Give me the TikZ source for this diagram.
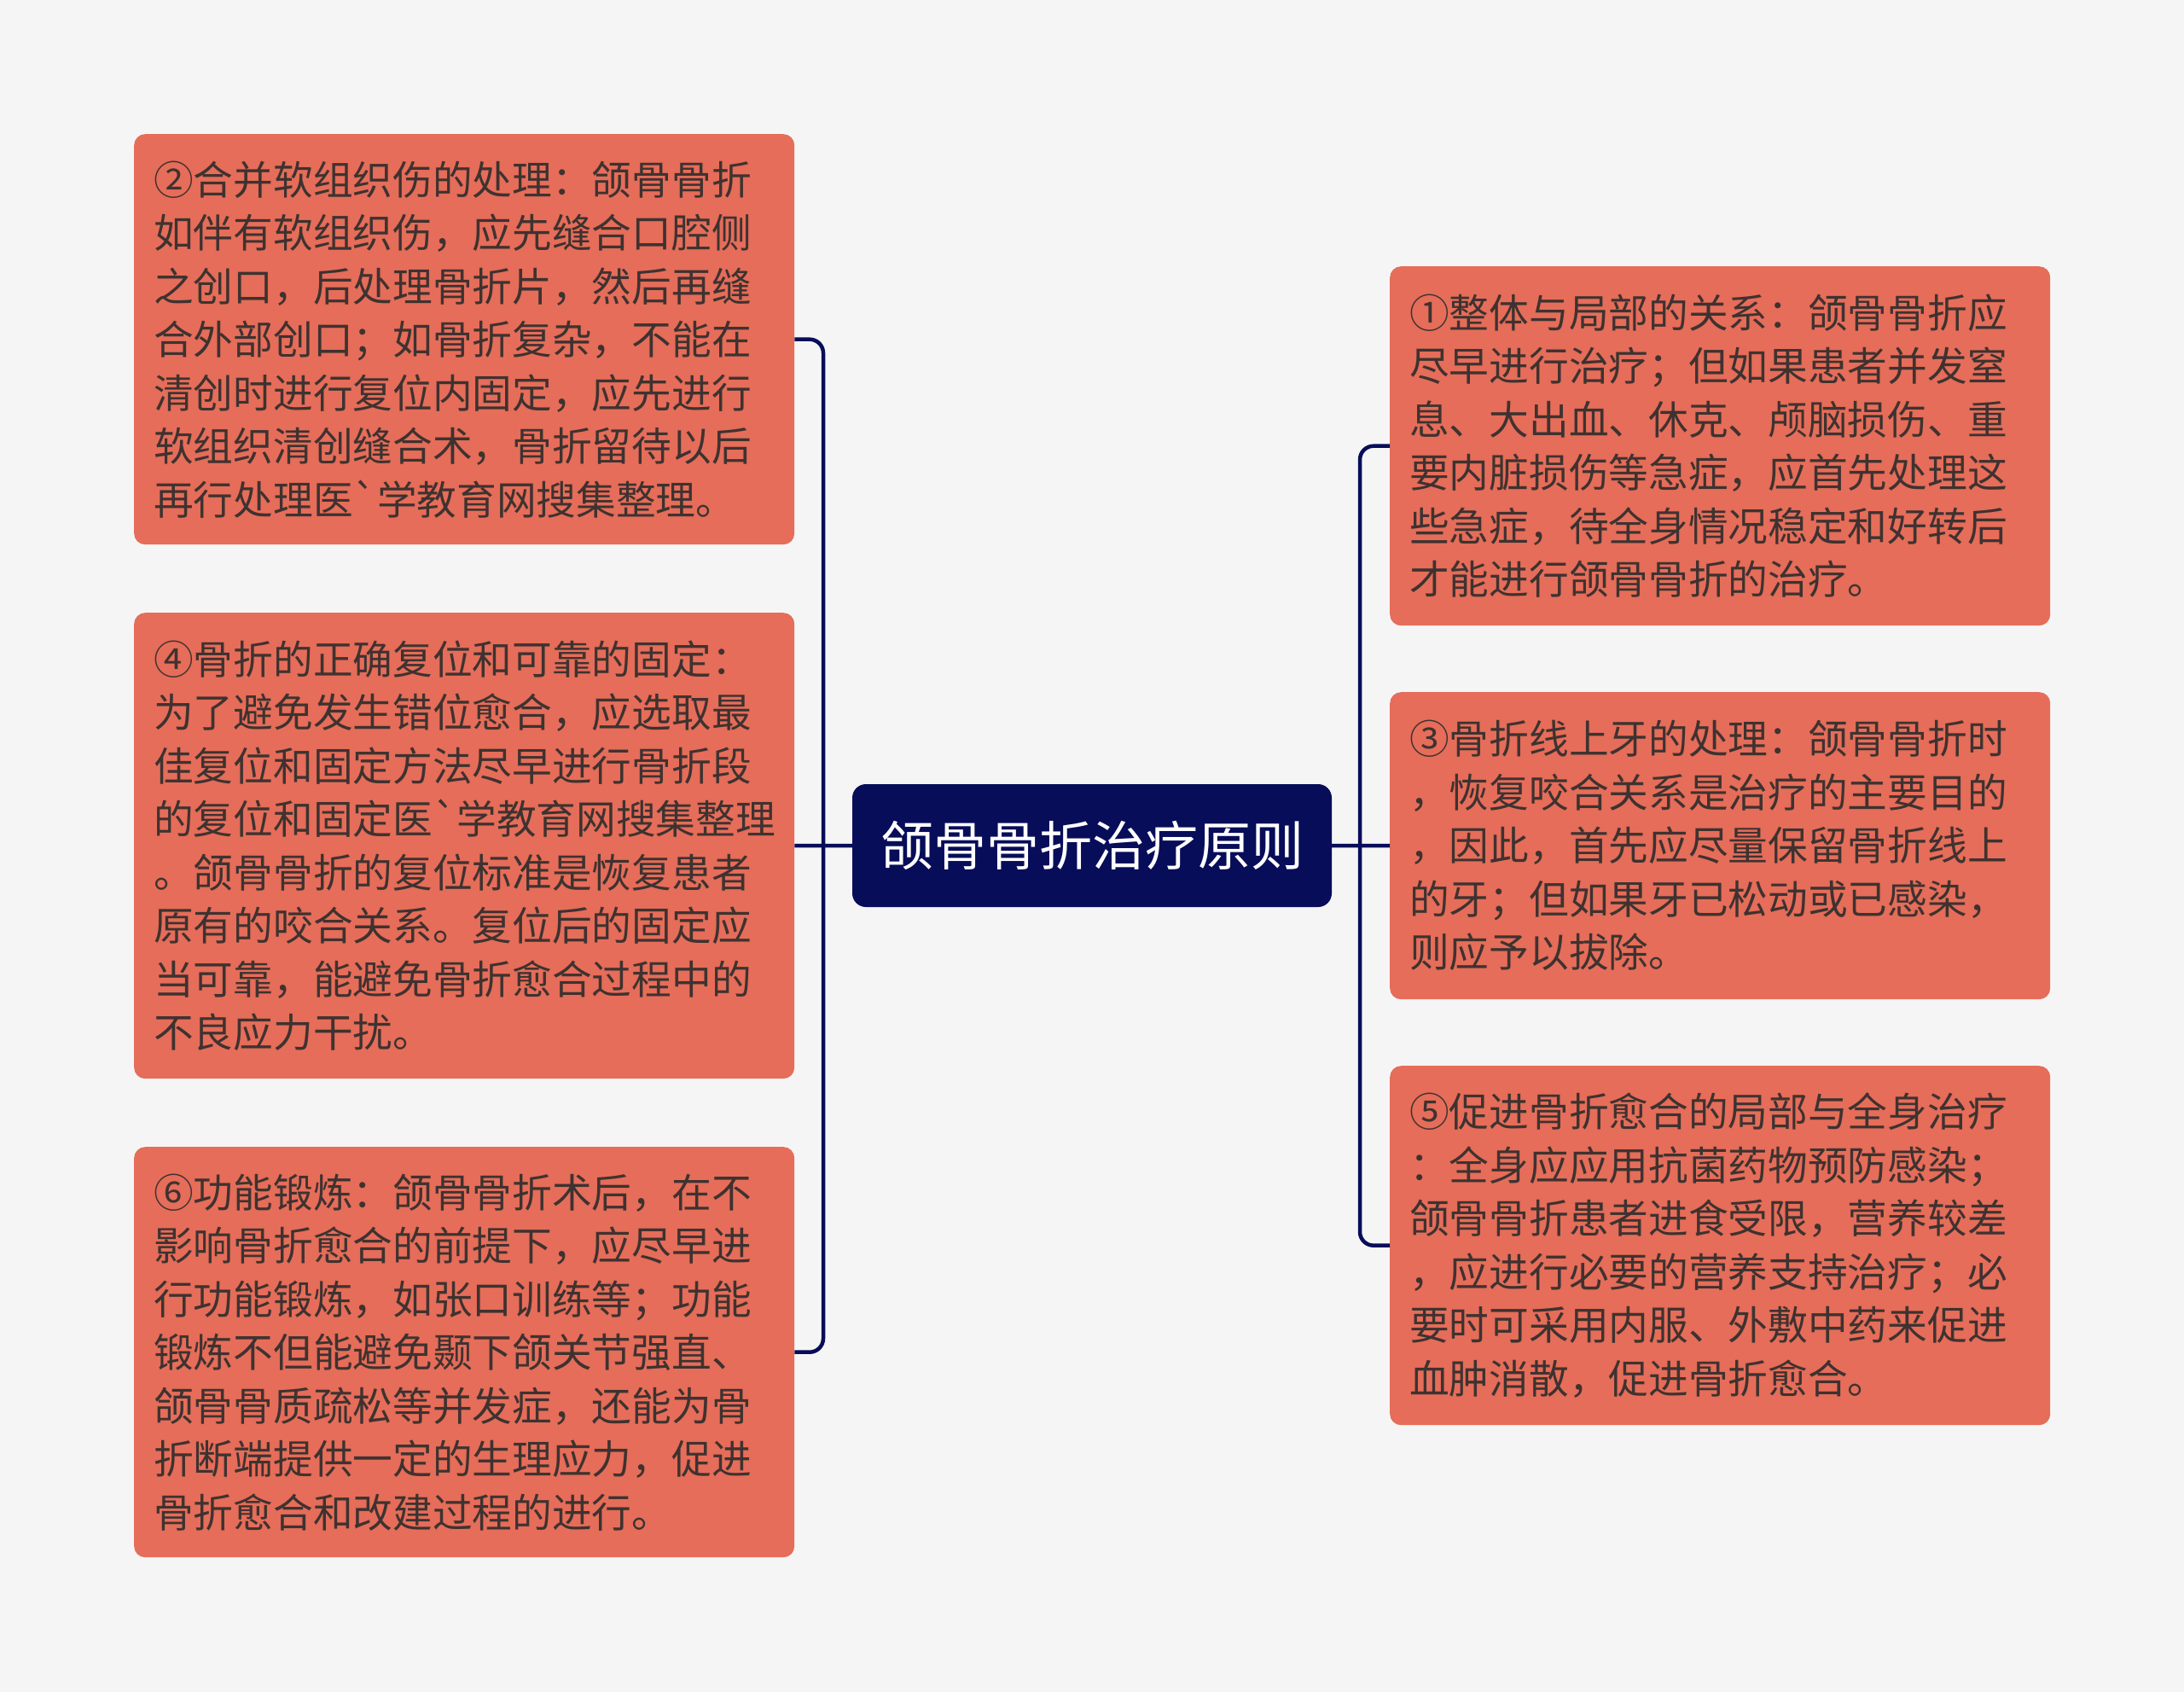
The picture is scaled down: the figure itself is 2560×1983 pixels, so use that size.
\documentclass[tikz,border=0pt]{standalone}
\usepackage{fontspec}
\newfontfamily\cjk{Noto Sans CJK SC}
\definecolor{bgc}{RGB}{245,245,245}
\definecolor{boxc}{RGB}{229,109,89}
\definecolor{txtc}{RGB}{62,50,48}
\definecolor{navy}{RGB}{7,13,89}
\tikzset{
  leaf/.style={fill=boxc, rounded corners=13pt, text=txtc, align=left,
    text width=728pt, inner xsep=23pt, inner ysep=0pt, anchor=north west,
    font=\cjk\fontsize{46.7}{62.5}\selectfont},
  rootbox/.style={fill=navy, rounded corners=16pt, text=white,
    minimum width=562pt, minimum height=144pt, inner sep=0pt,
    font=\cjk\fontsize{62}{70}\selectfont},
  link/.style={draw=navy, line width=4.5pt, rounded corners=16pt}
}
\begin{document}
\begin{tikzpicture}[x=1pt,y=-1pt]
\useasboundingbox (0,0) rectangle (2560,1983);
\fill[bgc] (0,0) rectangle (2560,1983);

\node[rootbox] (c) at (1280,991) {颌骨骨折治疗原则};

\node[leaf, minimum height=481pt] (l1) at (157,157) {②合并软组织伤的处理：颌骨骨折\\如伴有软组织伤，应先缝合口腔侧\\之创口，后处理骨折片，然后再缝\\合外部创口；如骨折复杂，不能在\\清创时进行复位内固定，应先进行\\软组织清创缝合术，骨折留待以后\\再行处理医\symbol{96}学教育网搜集整理。};

\node[leaf, minimum height=546pt] (l2) at (157,718) {④骨折的正确复位和可靠的固定：\\为了避免发生错位愈合，应选取最\\佳复位和固定方法尽早进行骨折段\\的复位和固定医\symbol{96}学教育网搜集整理\\。颌骨骨折的复位标准是恢复患者\\原有的咬合关系。复位后的固定应\\当可靠，能避免骨折愈合过程中的\\不良应力干扰。};

\node[leaf, minimum height=481pt] (l3) at (157,1344) {⑥功能锻炼：颌骨骨折术后，在不\\影响骨折愈合的前提下，应尽早进\\行功能锻炼，如张口训练等；功能\\锻炼不但能避免颞下颌关节强直、\\颌骨骨质疏松等并发症，还能为骨\\折断端提供一定的生理应力，促进\\骨折愈合和改建过程的进行。};

\node[leaf, minimum height=421pt] (r1) at (1629,312) {①整体与局部的关系：颌骨骨折应\\尽早进行治疗；但如果患者并发窒\\息、大出血、休克、颅脑损伤、重\\要内脏损伤等急症，应首先处理这\\些急症，待全身情况稳定和好转后\\才能进行颌骨骨折的治疗。};

\node[leaf, minimum height=360pt] (r2) at (1629,811) {③骨折线上牙的处理：颌骨骨折时\\，恢复咬合关系是治疗的主要目的\\，因此，首先应尽量保留骨折线上\\的牙；但如果牙已松动或已感染，\\则应予以拔除。};

\node[leaf, minimum height=421pt] (r3) at (1629,1249) {⑤促进骨折愈合的局部与全身治疗\\：全身应应用抗菌药物预防感染；\\颌骨骨折患者进食受限，营养较差\\，应进行必要的营养支持治疗；必\\要时可采用内服、外敷中药来促进\\血肿消散，促进骨折愈合。};

\coordinate (sL) at (965,991);
\coordinate (sR) at (1594,991);

\draw[link] (l1.east) -| (sL) |- (l3.east);
\draw[link] (c.west) -- (l2.east);
\draw[link] (r1.west) -| (sR) |- (r3.west);
\draw[link] (c.east) -- (r2.west);
\end{tikzpicture}
\end{document}
